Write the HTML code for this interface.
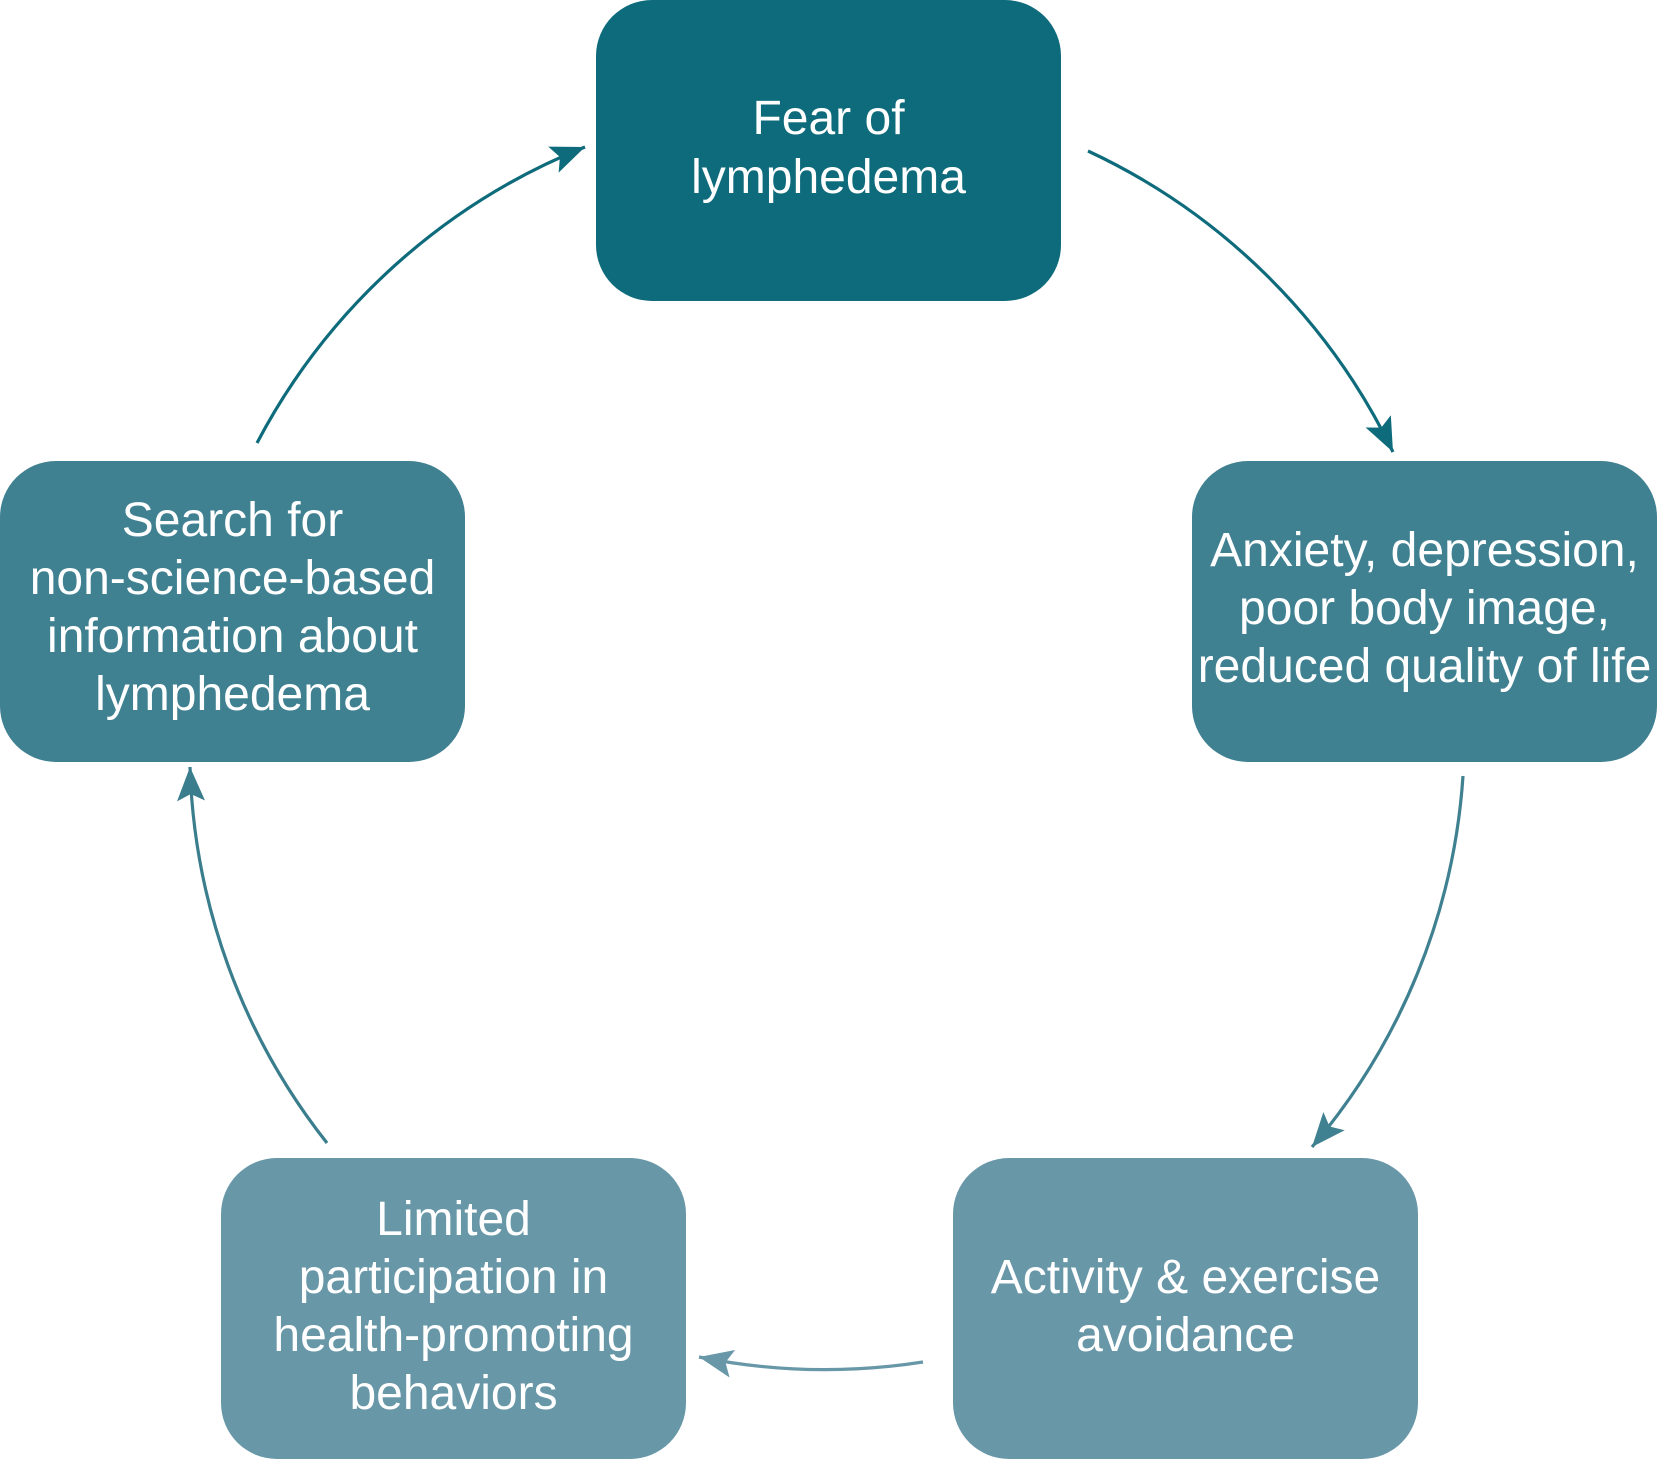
<!DOCTYPE html>
<html>
<head>
<meta charset="utf-8">
<style>
  html, body { margin: 0; padding: 0; background: #ffffff; }
  svg { display: block; }
  text { font-family: "Liberation Sans", Arial, sans-serif; font-size: 48px; fill: #ffffff; }
</style>
</head>
<body>
<svg width="1658" height="1460" viewBox="0 0 1658 1460" xmlns="http://www.w3.org/2000/svg">
  <defs>
    <marker id="mDark" markerUnits="userSpaceOnUse" viewBox="-36 -16 38 32" refX="0" refY="0" markerWidth="38" markerHeight="32" orient="auto">
      <path d="M0,0 L-34,-14 L-27,0 L-34,14 Z" fill="#0e6b7b"/>
    </marker>
    <marker id="mMid" markerUnits="userSpaceOnUse" viewBox="-36 -16 38 32" refX="0" refY="0" markerWidth="38" markerHeight="32" orient="auto">
      <path d="M0,0 L-34,-14 L-27,0 L-34,14 Z" fill="#3f8091"/>
    </marker>
    <marker id="mLight" markerUnits="userSpaceOnUse" viewBox="-36 -16 38 32" refX="0" refY="0" markerWidth="38" markerHeight="32" orient="auto">
      <path d="M0,0 L-34,-14 L-27,0 L-34,14 Z" fill="#6897a8"/>
    </marker>
    <marker id="mMid2" markerUnits="userSpaceOnUse" viewBox="-36 -16 38 32" refX="0" refY="0" markerWidth="38" markerHeight="32" orient="auto">
      <path d="M0,0 L-34,-14 L-27,0 L-34,14 Z" fill="#3a7d8d"/>
    </marker>
  </defs>

  <!-- Boxes -->
  <rect x="596" y="0" width="465" height="301" rx="56" ry="56" fill="#0e6b7b"/>
  <rect x="1192" y="461" width="465" height="301" rx="56" ry="56" fill="#3f8091"/>
  <rect x="0" y="461" width="465" height="301" rx="56" ry="56" fill="#3f8091"/>
  <rect x="221" y="1158" width="465" height="301" rx="56" ry="56" fill="#6897a8"/>
  <rect x="953" y="1158" width="465" height="301" rx="56" ry="56" fill="#6897a8"/>

  <!-- Arrows -->
  <path d="M1088,151 A638,638 0 0 1 1393,452" fill="none" stroke="#0e6b7b" stroke-width="3.2" marker-end="url(#mDark)"/>
  <path d="M1463,776 A638,638 0 0 1 1312,1147" fill="none" stroke="#3f8091" stroke-width="3.2" marker-end="url(#mMid)"/>
  <path d="M923,1362 A638,638 0 0 1 699,1357" fill="none" stroke="#6897a8" stroke-width="3.2" marker-end="url(#mLight)"/>
  <path d="M327,1143 A638,638 0 0 1 190,767" fill="none" stroke="#3a7d8d" stroke-width="3.2" marker-end="url(#mMid2)"/>
  <path d="M257,443 A638,638 0 0 1 585,147" fill="none" stroke="#0e6b7b" stroke-width="3.2" marker-end="url(#mDark)"/>

  <!-- Text -->
  <text x="828.5" y="134" text-anchor="middle">Fear of</text>
  <text x="828.5" y="193" text-anchor="middle">lymphedema</text>

  <text x="1424.5" y="566" text-anchor="middle">Anxiety, depression,</text>
  <text x="1424.5" y="624" text-anchor="middle">poor body image,</text>
  <text x="1424.5" y="682" text-anchor="middle">reduced quality of life</text>

  <text x="1185.5" y="1293" text-anchor="middle">Activity &amp; exercise</text>
  <text x="1185.5" y="1351" text-anchor="middle">avoidance</text>

  <text x="453.5" y="1235" text-anchor="middle">Limited</text>
  <text x="453.5" y="1293" text-anchor="middle">participation in</text>
  <text x="453.5" y="1351" text-anchor="middle">health-promoting</text>
  <text x="453.5" y="1409" text-anchor="middle">behaviors</text>

  <text x="232.5" y="536" text-anchor="middle">Search for</text>
  <text x="232.5" y="594" text-anchor="middle">non-science-based</text>
  <text x="232.5" y="652" text-anchor="middle">information about</text>
  <text x="232.5" y="710" text-anchor="middle">lymphedema</text>
</svg>
</body>
</html>
